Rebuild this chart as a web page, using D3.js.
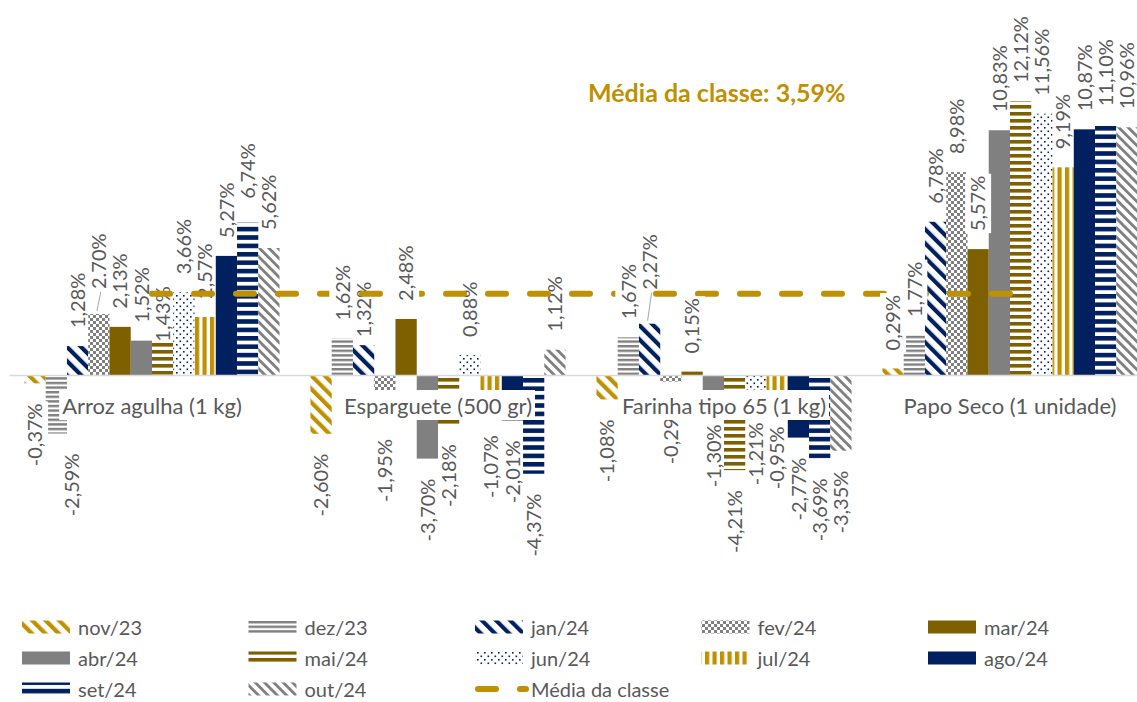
<!DOCTYPE html>
<html><head><meta charset="utf-8">
<script src="https://cdn.jsdelivr.net/npm/d3@7"></script>
<style>
body{margin:0;background:#fff}
svg{display:block}
text{font-family:Lato,'Open Sans',sans-serif}
</style>
</head><body>
<svg id="chart" width="1137" height="702"></svg>
<script>
// ---------- DATA ----------
const categories = ["Arroz agulha (1 kg)", "Esparguete (500 gr)", "Farinha tipo 65 (1 kg)", "Papo Seco (1 unidade)"];
const months = ["nov/23","dez/23","jan/24","fev/24","mar/24","abr/24","mai/24","jun/24","jul/24","ago/24","set/24","out/24"];
const nov23 = [-0.37, -2.60, -1.08, 0.29];
const dez23 = [-2.59, 1.62, 1.67, 1.77];
const jan24 = [1.28, 1.32, 2.27, 6.78];
const fev24 = [2.70, -1.95, -0.29, 8.98];
const mar24 = [2.13, 2.48, 0.15, 5.57];
const abr24 = [1.52, -3.70, -1.30, 10.83];
const mai24 = [1.43, -2.18, -4.21, 12.12];
const jun24 = [3.66, 0.88, -1.21, 11.56];
const jul24 = [2.57, -1.07, -0.95, 9.19];
const ago24 = [5.27, -2.01, -2.77, 10.87];
const set24 = [6.74, -4.37, -3.69, 11.10];
const out24 = [5.62, 1.12, -3.35, 10.96];
const mediaClasse = [3.59, 3.59, 3.59, 3.59];
const mediaLabel = "Média da classe";
const seriesValues = [nov23, dez23, jan24, fev24, mar24, abr24, mai24, jun24, jul24, ago24, set24, out24];
// label text exceptions as printed in the source
const labelTextOverride = {"0|3": "2.70%"};

// ---------- STYLE / LAYOUT ----------
const GOLD = "#BF9000", BROWN = "#7F6000", NAVY = "#002060", GREY = "#808080", TXT = "#595959";
// manual label nudges (screen px) as in the source chart
const labelNudge = {"0|1":[15,0],"0|3":[0,-7],"0|6":[0,17],"0|10":[0,-6],"1|2":[0,10],"1|8":[0,16],"2|2":[0,-16],"2|8":[0,10]};
const leaderFor = {"0|3":true,"2|2":true};
// series whose data labels carry a white fill
const filledLabelSeries = [0, 1, 4];

const svg = d3.select("#chart");
const defs = svg.append("defs");

function stripes(id, color, period, width, angle){
  const p = defs.append("pattern").attr("id", id).attr("patternUnits","userSpaceOnUse")
    .attr("width", period).attr("height", period).attr("patternTransform", `rotate(${angle})`);
  p.append("rect").attr("width", period).attr("height", period).attr("fill", "#fff");
  p.append("rect").attr("width", width).attr("height", period).attr("fill", color);
}
stripes("p-nov", GOLD, 9.5, 4.2, -45);
stripes("p-dez", GREY, 4.6, 2.4, 90);
stripes("p-jan", NAVY, 10, 4.2, -45);
stripes("p-mai", BROWN, 7, 3.6, 90);
stripes("p-jul", GOLD, 7.5, 4.2, 0);
stripes("p-set", NAVY, 8.4, 4.6, 90);
stripes("p-out", GREY, 6.6, 2.8, -45);
{
  const p = defs.append("pattern").attr("id","p-fev").attr("patternUnits","userSpaceOnUse").attr("width",6).attr("height",6);
  p.append("rect").attr("width",6).attr("height",6).attr("fill","#fff");
  p.append("rect").attr("width",3).attr("height",3).attr("fill",GREY);
  p.append("rect").attr("x",3).attr("y",3).attr("width",3).attr("height",3).attr("fill",GREY);
}
{
  const p = defs.append("pattern").attr("id","p-jun").attr("patternUnits","userSpaceOnUse").attr("width",7).attr("height",7);
  p.append("rect").attr("width",7).attr("height",7).attr("fill","#fff");
  p.append("rect").attr("x",1).attr("y",1).attr("width",1.6).attr("height",1.6).attr("fill",NAVY);
  p.append("rect").attr("x",4.5).attr("y",4.5).attr("width",1.6).attr("height",1.6).attr("fill",NAVY);
}
const monthFills = ["url(#p-nov)","url(#p-dez)","url(#p-jan)","url(#p-fev)",BROWN,GREY,"url(#p-mai)","url(#p-jun)","url(#p-jul)",NAVY,"url(#p-set)","url(#p-out)"];

// ---------- SCALES ----------
const x0 = d3.scaleBand().domain(categories).range([9, 1153]).paddingInner(0.108).paddingOuter(0.054);
const x1 = d3.scaleBand().domain(months).range([0, x0.bandwidth()]);
const y = d3.scaleLinear().domain([0, 10]).range([375, 375 - 226]);

// ---------- BARS ----------
const barData = [];
seriesValues.forEach((vals, mi) => vals.forEach((v, ci) => barData.push({ci, mi, v, cat: categories[ci], m: months[mi]})));

svg.append("g").selectAll("rect").data(barData).join("rect")
  .attr("x", d => x0(d.cat) + x1(d.m))
  .attr("width", x1.bandwidth())
  .attr("y", d => Math.min(y(d.v), y(0)))
  .attr("height", d => Math.abs(y(d.v) - y(0)))
  .attr("fill", d => monthFills[d.mi]);

// zero axis line
svg.append("g").attr("transform", `translate(0,${y(0)})`)
  .call(d3.axisBottom(x0).tickSize(0).tickSizeOuter(0).tickFormat(""))
  .call(g => g.select(".domain").attr("stroke", "#D9D9D9").attr("stroke-width", 1.5));

// ---------- DATA LABELS (below the line) ----------
const fmt = v => d3.format(".2f")(v).replace("\u2212", "-").replace(".", ",") + "%";
const lblUnder = svg.append("g");
const lineG = svg.append("g");
const lblOver = svg.append("g");

const line = d3.line().x(d => x0(d.c) + x0.bandwidth() / 2).y(d => y(d.v));
lineG.append("path").datum(mediaClasse.map((v, i) => ({c: categories[i], v})))
  .attr("d", line).attr("fill", "none").attr("stroke", GOLD)
  .attr("stroke-width", 6).attr("stroke-linecap", "round").attr("stroke-dasharray", "18 24");

barData.forEach(d => {
  const key = d.ci + "|" + d.mi;
  const filled = filledLabelSeries.includes(d.mi);
  const host = filled ? lblOver : lblUnder;
  const nud = labelNudge[key] || [0, 0];
  const cx = x0(d.cat) + x1(d.m) + x1.bandwidth() / 2 + nud[0];
  const pos = d.v >= 0;
  const ay = (pos ? y(d.v) - 18 : y(d.v) + 20) + nud[1];
  if (leaderFor[key]) {
    host.append("line").attr("x1", cx + 2).attr("y1", ay + 3).attr("x2", cx - 2).attr("y2", y(d.v) - 3)
      .attr("stroke", "#A6A6A6").attr("stroke-width", 1);
  }
  const g = host.append("g").attr("transform", `translate(${cx},${ay}) rotate(-90)`);
  const rect = g.append("rect").attr("fill", filled ? "#fff" : "none");
  const t = g.append("text").attr("font-size", 20).attr("fill", TXT)
    .attr("text-anchor", pos ? "start" : "end").attr("dy", "0.36em")
    .text(labelTextOverride[key] || fmt(d.v));
  const L = t.node().getComputedTextLength();
  rect.attr("x", pos ? -2 : -L - 2).attr("width", L + 4).attr("y", -13).attr("height", 26);
});

// ---------- CATEGORY LABELS ----------
const catAxis = svg.append("g").attr("transform", `translate(0,${y(0)})`)
  .call(d3.axisBottom(x0).tickSize(0).tickPadding(23.5).tickSizeOuter(0));
catAxis.select(".domain").remove();
catAxis.selectAll(".tick text").attr("font-size", 22).attr("fill", TXT).attr("font-family", "Lato,'Open Sans',sans-serif");
catAxis.selectAll(".tick").each(function(){
  const tk = d3.select(this);
  const bb = tk.select("text").node().getBBox();
  tk.insert("rect", "text").attr("x", bb.x - 3).attr("y", 15).attr("width", bb.width + 6).attr("height", 30).attr("fill", "#fff");
});

// ---------- TITLE ----------
svg.append("text").attr("x", 588).attr("y", 102).attr("font-size", 25).attr("font-weight", "bold")
  .attr("fill", GOLD).text(mediaLabel + ": " + fmt(mediaClasse[0]));

// ---------- LEGEND ----------
const legendItems = months.map((m, i) => ({name: m, fill: monthFills[i], type: "bar"}))
  .concat([{name: mediaLabel, type: "line"}]);
const lg = svg.append("g");
legendItems.forEach((it, i) => {
  const col = i % 5, row = Math.floor(i / 5);
  const lx = 22 + col * 226.5, ly = 627 + row * 31;
  if (it.type === "bar") {
    lg.append("rect").attr("x", lx).attr("y", ly - 6.5).attr("width", 48).attr("height", 13).attr("fill", it.fill);
  } else {
    lg.append("line").attr("x1", lx + 3).attr("x2", lx + 51).attr("y1", ly).attr("y2", ly)
      .attr("stroke", GOLD).attr("stroke-width", 6).attr("stroke-linecap", "round").attr("stroke-dasharray", "18 24");
  }
  lg.append("text").attr("x", lx + 56).attr("y", ly + 7.5).attr("font-size", 20).attr("fill", TXT).text(it.name);
});
</script>
</body></html>
